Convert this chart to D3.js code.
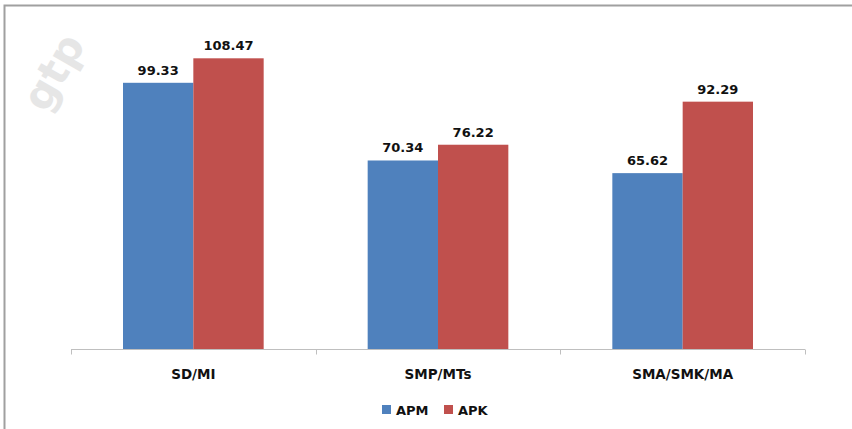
<!DOCTYPE html>
<html><head><meta charset="utf-8">
<script src="https://cdn.jsdelivr.net/npm/d3@7"></script>
<style>body{margin:0;background:#fff}svg{display:block}</style>
</head><body>
<svg id="c" width="852" height="429"></svg>
<script>
const categories = ["SD/MI", "SMP/MTs", "SMA/SMK/MA"];
const seriesNames = ["APM", "APK"];
const apm = [99.33, 70.34, 65.62];
const apk = [108.47, 76.22, 92.29];
const colors = ["#4f81bd", "#c0504d"];

const svg = d3.select("#c");
const font = "'DejaVu Sans', Verdana, sans-serif";

// watermark
svg.append("text").attr("transform", "translate(46,114) rotate(-60)")
  .attr("font-family", font).attr("font-weight", "bold").attr("font-size", 42)
  .attr("fill", "#e6e6e6").text("gtp");

// frame
svg.append("path").attr("d", "M4.5,429 V5.5 H852").attr("fill", "none")
  .attr("stroke", "#a0a0a0").attr("stroke-width", 2);

const x0 = d3.scaleBand().domain(categories).range([71, 805]).paddingInner(0).paddingOuter(0);
const x1 = d3.scaleBand().domain(seriesNames).range([52, x0.bandwidth() - 52]);
const y = d3.scaleLinear().domain([0, 120]).range([349, 27.4]);

const data = categories.map((c, i) => ({cat: c, vals: [apm[i], apk[i]]}));

const g = svg.append("g");
data.forEach(d => {
  d.vals.forEach((v, j) => {
    const bx = x0(d.cat) + x1(seriesNames[j]);
    g.append("rect").attr("x", bx).attr("y", y(v)).attr("width", x1.bandwidth())
      .attr("height", y(0) - y(v)).attr("fill", colors[j]);
    g.append("text").attr("x", bx + x1.bandwidth() / 2).attr("y", y(v) - 8)
      .attr("text-anchor", "middle").attr("font-family", font).attr("font-weight", "bold")
      .attr("font-size", 13).attr("fill", "#111").text(v.toFixed(2));
  });
});

// axis
const ax = svg.append("g").attr("transform", "translate(0,349.5)");
ax.append("line").attr("x1", 71).attr("x2", 805).attr("stroke", "#bfbfbf");
const tickPos = categories.map(c => x0(c)).concat([x0.range()[1]]);
tickPos.forEach(t => ax.append("line").attr("x1", Math.round(t) + 0.5).attr("x2", Math.round(t) + 0.5)
  .attr("y1", 0).attr("y2", 5).attr("stroke", "#bfbfbf"));
categories.forEach(c => ax.append("text").attr("x", x0(c) + x0.bandwidth() / 2).attr("y", 29)
  .attr("text-anchor", "middle").attr("font-family", font).attr("font-weight", "bold")
  .attr("font-size", 13.5).attr("fill", "#111").text(c));

// legend
const lg = svg.append("g").attr("transform", "translate(382,410)");
const lx = [0, 62];
seriesNames.forEach((s, i) => {
  lg.append("rect").attr("x", lx[i]).attr("y", -5).attr("width", 9).attr("height", 9).attr("fill", colors[i]);
  lg.append("text").attr("x", lx[i] + 14).attr("y", 5).attr("font-family", font).attr("font-weight", "bold")
    .attr("font-size", 13).attr("fill", "#111").text(s);
});
</script>
</body></html>
